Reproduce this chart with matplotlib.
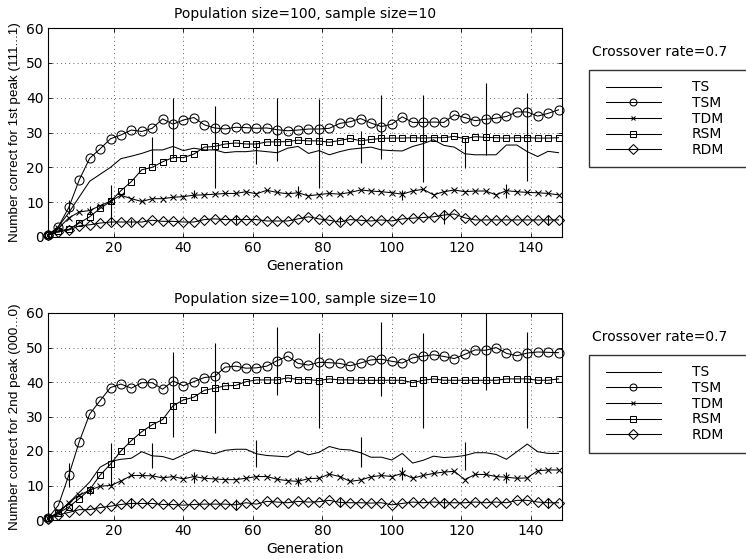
import numpy as np
import matplotlib
matplotlib.use("Agg")
import matplotlib.pyplot as plt
from matplotlib.lines import Line2D
from matplotlib.legend_handler import HandlerLine2D

plt.rcParams['font.family'] = ['DejaVu Sans']
plt.rcParams['font.size'] = 10

# ---------------- data ----------------
generations = np.arange(1, 149, 3)  # 1, 4, ..., 148
series_names = ["TS", "TSM", "TDM", "RSM", "RDM"]

top_TS = [0.5, 3.0, 7.0, 11.5, 16.0, 18.0, 20.0, 22.5, 23.2, 24.0,
          25.0, 25.0, 26.0, 24.8, 25.5, 25.0, 25.0, 24.2, 24.5, 24.5,
          24.8, 24.5, 24.2, 25.5, 26.0, 24.0, 24.8, 23.6, 24.5, 25.2,
          25.5, 25.8, 25.0, 24.8, 24.7, 26.0, 26.8, 27.9, 26.3, 25.8,
          23.9, 23.6, 23.6, 23.6, 26.4, 26.4, 24.5, 23.1, 24.6, 24.2]
top_TSM = [0.5, 3.0, 8.5, 16.4, 22.6, 25.3, 28.2, 29.3, 30.7, 30.3,
           31.2, 33.9, 32.4, 33.6, 34.3, 32.2, 31.3, 31.0, 31.5, 31.4,
           31.2, 31.3, 30.8, 30.5, 30.7, 31.0, 31.0, 31.2, 32.6, 33.1,
           34.0, 32.7, 31.7, 32.4, 34.5, 32.9, 32.9, 33.0, 32.9, 35.1,
           34.3, 33.4, 33.8, 34.1, 34.6, 35.9, 35.9, 34.7, 35.5, 36.5]
top_TDM = [0.5, 2.5, 5.5, 7.2, 7.6, 9.0, 10.3, 12.0, 11.0, 10.2,
           11.0, 11.0, 11.4, 11.6, 12.0, 12.1, 12.3, 12.5, 12.5, 13.0,
           12.4, 13.4, 12.8, 12.4, 12.7, 11.8, 12.2, 12.5, 12.3, 12.8,
           13.5, 13.2, 13.0, 12.7, 12.3, 13.2, 13.7, 12.1, 13.0, 13.5,
           13.0, 13.2, 13.2, 12.1, 13.3, 13.0, 12.8, 12.7, 12.5, 12.1]
top_RSM = [0.5, 1.8, 2.2, 4.0, 5.8, 8.2, 10.2, 13.3, 15.9, 19.3,
           20.0, 21.6, 22.8, 22.8, 23.8, 25.8, 26.0, 26.7, 27.0, 26.7,
           26.7, 27.3, 27.3, 27.4, 27.8, 27.6, 27.6, 27.2, 27.7, 28.3,
           27.6, 28.0, 28.3, 28.4, 28.4, 28.5, 28.4, 28.5, 28.5, 28.9,
           28.2, 28.8, 28.6, 28.5, 28.4, 28.5, 28.5, 28.4, 28.4, 28.5]
top_RDM = [0.5, 1.5, 2.0, 3.2, 3.5, 4.0, 4.3, 4.3, 4.3, 4.3,
           4.8, 4.5, 4.5, 4.3, 4.3, 5.0, 5.2, 5.0, 5.0, 5.0,
           5.0, 4.6, 4.6, 4.6, 5.2, 5.8, 5.2, 4.8, 4.3, 5.0,
           4.8, 4.6, 4.9, 4.6, 5.2, 5.4, 5.6, 5.8, 6.3, 6.6,
           5.5, 4.9, 4.9, 4.9, 4.9, 4.9, 4.9, 4.9, 4.9, 4.9]

bot_TS = [0.5, 2.0, 5.0, 8.0, 11.0, 15.3, 17.0, 17.6, 17.9, 19.8,
          18.6, 18.4, 17.5, 18.9, 20.3, 19.8, 19.2, 20.2, 20.5, 20.5,
          19.2, 18.7, 18.5, 18.3, 20.0, 18.9, 19.6, 21.3, 20.5, 20.3,
          19.5, 18.2, 18.2, 17.4, 19.3, 16.5, 17.3, 18.5, 18.1, 18.3,
          18.7, 19.5, 19.5, 19.0, 17.6, 19.8, 22.0, 19.8, 19.3, 19.3]
bot_TSM = [0.5, 4.3, 13.0, 22.7, 30.7, 34.6, 38.4, 39.4, 38.2, 39.8,
           39.8, 37.9, 40.3, 38.9, 40.1, 41.3, 41.6, 44.3, 44.6, 44.0,
           44.1, 44.6, 46.2, 47.5, 45.4, 44.9, 45.7, 45.6, 45.4, 44.7,
           45.5, 46.4, 46.6, 46.0, 45.5, 47.0, 47.5, 47.9, 47.4, 46.8,
           48.0, 49.3, 49.2, 50.0, 48.3, 47.6, 48.4, 48.7, 48.6, 48.5]
bot_TDM = [0.5, 2.2, 5.0, 7.2, 8.6, 9.8, 10.0, 11.3, 12.9, 12.9,
           12.8, 12.2, 12.6, 11.9, 12.6, 12.1, 11.9, 11.7, 11.7, 12.1,
           12.6, 12.6, 11.8, 11.4, 11.2, 12.0, 12.1, 13.3, 12.6, 11.2,
           11.6, 12.5, 12.9, 12.6, 13.5, 12.1, 12.9, 13.5, 13.9, 14.1,
           11.7, 13.2, 13.2, 12.6, 12.4, 12.1, 12.2, 14.3, 14.5, 14.5]
bot_RSM = [0.5, 2.0, 3.8, 6.2, 8.8, 13.0, 16.2, 20.0, 23.0, 25.6,
           27.6, 29.1, 33.1, 34.8, 35.6, 37.6, 38.2, 38.9, 39.0, 40.1,
           40.6, 40.6, 40.6, 41.2, 40.7, 40.7, 40.4, 40.9, 40.6, 40.6,
           40.5, 40.5, 40.5, 40.5, 40.5, 39.8, 40.5, 40.9, 40.5, 40.5,
           40.5, 40.5, 40.5, 40.5, 40.9, 40.9, 40.9, 40.5, 40.5, 40.9]
bot_RDM = [0.3, 1.5, 2.2, 3.0, 3.0, 3.6, 4.0, 4.5, 4.8, 4.8,
           4.8, 4.5, 4.5, 4.3, 4.5, 4.6, 4.6, 4.6, 4.4, 5.0,
           4.6, 5.4, 5.2, 5.0, 5.4, 5.2, 5.3, 5.7, 5.1, 5.0,
           5.0, 4.9, 5.0, 4.4, 4.8, 5.2, 5.0, 5.2, 5.0, 5.0,
           5.0, 5.2, 5.0, 5.2, 5.0, 5.7, 5.7, 5.2, 5.0, 5.0]

# error bars: every 6th generation (1, 7, ..., 145), cycling TS, TSM, TDM, RSM, RDM
err_generations = np.arange(1, 146, 6)
top_err_lo = [0.5, 6.5, 6.5, 3.4, 3.5, 20.7, 22.6, 11.1, 14.0, 3.8,
              20.9, 21.8, 11.1, 14.0, 3.5, 21.2, 22.3, 10.6, 15.9, 3.6,
              19.7, 23.6, 11.1, 16.1, 3.4]
top_err_hi = [0.5, 10.5, 8.8, 14.9, 5.1, 28.8, 40.0, 13.5, 37.6, 6.2,
              27.4, 39.8, 14.5, 39.7, 6.0, 30.3, 40.8, 13.5, 40.8, 7.8,
              28.4, 44.2, 15.1, 41.3, 6.3]
bot_err_lo = [0.5, 9.7, 7.2, 9.7, 3.4, 15.0, 24.2, 10.8, 25.1, 2.9,
              15.5, 36.2, 9.9, 26.6, 3.8, 15.5, 35.9, 11.6, 26.6, 3.4,
              14.5, 37.7, 10.6, 26.6, 3.4]
bot_err_hi = [0.5, 16.4, 9.9, 22.2, 6.3, 22.2, 48.8, 14.0, 51.2, 6.0,
              23.2, 56.0, 12.6, 54.1, 6.3, 24.2, 57.5, 15.5, 54.1, 6.3,
              22.7, 61.0, 14.0, 54.6, 6.3]

titles = ["Population size=100, sample size=10", "Population size=100, sample size=10"]
ylabels = ["Number correct for 1st peak (111...1)", "Number correct for 2nd peak (000...0)"]
xlabel = "Generation"
side_note = "Crossover rate=0.7"
xticks = [20, 40, 60, 80, 100, 120, 140]
yticks = [0, 10, 20, 30, 40, 50, 60]

# ---------------- styling ----------------
styles = {
    "TS":  dict(marker=None),
    "TSM": dict(marker='o', ms=6.5),
    "TDM": dict(marker='x', ms=4.2),
    "RSM": dict(marker='s', ms=4.8),
    "RDM": dict(marker='D', ms=4.6),
}
W, H = 746, 559
FS = 10
fig = plt.figure(figsize=(W / 100, H / 100), dpi=100)

panels = [
    dict(data=[top_TS, top_TSM, top_TDM, top_RSM, top_RDM], lo=top_err_lo, hi=top_err_hi,
         rect=(48 / W, 1 - 237 / H, 514 / W, 209 / H), title=titles[0], ylabel=ylabels[0],
         note_y=1 - 52 / H, leg_top=1 - 70 / H),
    dict(data=[bot_TS, bot_TSM, bot_TDM, bot_RSM, bot_RDM], lo=bot_err_lo, hi=bot_err_hi,
         rect=(48 / W, 1 - 520 / H, 514 / W, 207 / H), title=titles[1], ylabel=ylabels[1],
         note_y=1 - 337 / H, leg_top=1 - 355 / H),
]

lw = 0.75
for p in panels:
    ax = fig.add_axes(p["rect"])
    series = dict(zip(series_names, p["data"]))
    for name in series_names:
        st = styles[name]
        ax.plot(generations, series[name], color='black', lw=lw,
                marker=st["marker"], ms=st.get("ms", 0), mfc='none', mec='black',
                mew=0.75, clip_on=False, zorder=3)
    # error bars
    for i, g in enumerate(err_generations):
        ax.vlines(g, p["lo"][i], min(p["hi"][i], 60), color='black', lw=0.8, zorder=2)
    ax.set_xlim(1, 149)
    ax.set_ylim(0, 60)
    ax.set_xticks(xticks)
    ax.set_yticks(yticks)
    ax.tick_params(direction='in', top=True, right=True, length=3, width=0.6,
                   labelsize=FS, pad=3)
    ax.grid(True, linestyle=(0, (1, 4)), color='black', lw=0.6, alpha=0.8)
    for s in ax.spines.values():
        s.set_linewidth(0.8)
    ax.set_title(p["title"], fontsize=FS, pad=7.5)
    ax.set_xlabel(xlabel, fontsize=FS, labelpad=3)
    ax.set_ylabel(p["ylabel"], fontsize=9.7, labelpad=4,
                  family=['Liberation Sans', 'DejaVu Sans'])

    fig.text(592 / W, p["note_y"], side_note, fontsize=FS, va='center', ha='left')

    handles = []
    for name in series_names:
        st = styles[name]
        ms = {"TSM": 5.0, "TDM": 3.5, "RSM": 4.5, "RDM": 4.8}.get(name, 0)
        handles.append(Line2D([], [], color='black', lw=lw, marker=st["marker"], ms=ms,
                              mfc='none', mec='black', mew=0.75))
    leg = fig.legend(handles, series_names, loc='upper left',
                     bbox_to_anchor=(589 / W, p["leg_top"] - 96 / H, 165 / W, 96 / H),
                     mode='expand', frameon=True, fancybox=False, edgecolor='black',
                     fontsize=FS, handlelength=4.4, handletextpad=2.26,
                     handler_map={Line2D: HandlerLine2D(xpad=0.45)},
                     labelspacing=0.12, borderpad=0.75, borderaxespad=0.0, markerfirst=True)
    leg.get_frame().set_linewidth(1.0)

fig.savefig("out.png", dpi=100)
